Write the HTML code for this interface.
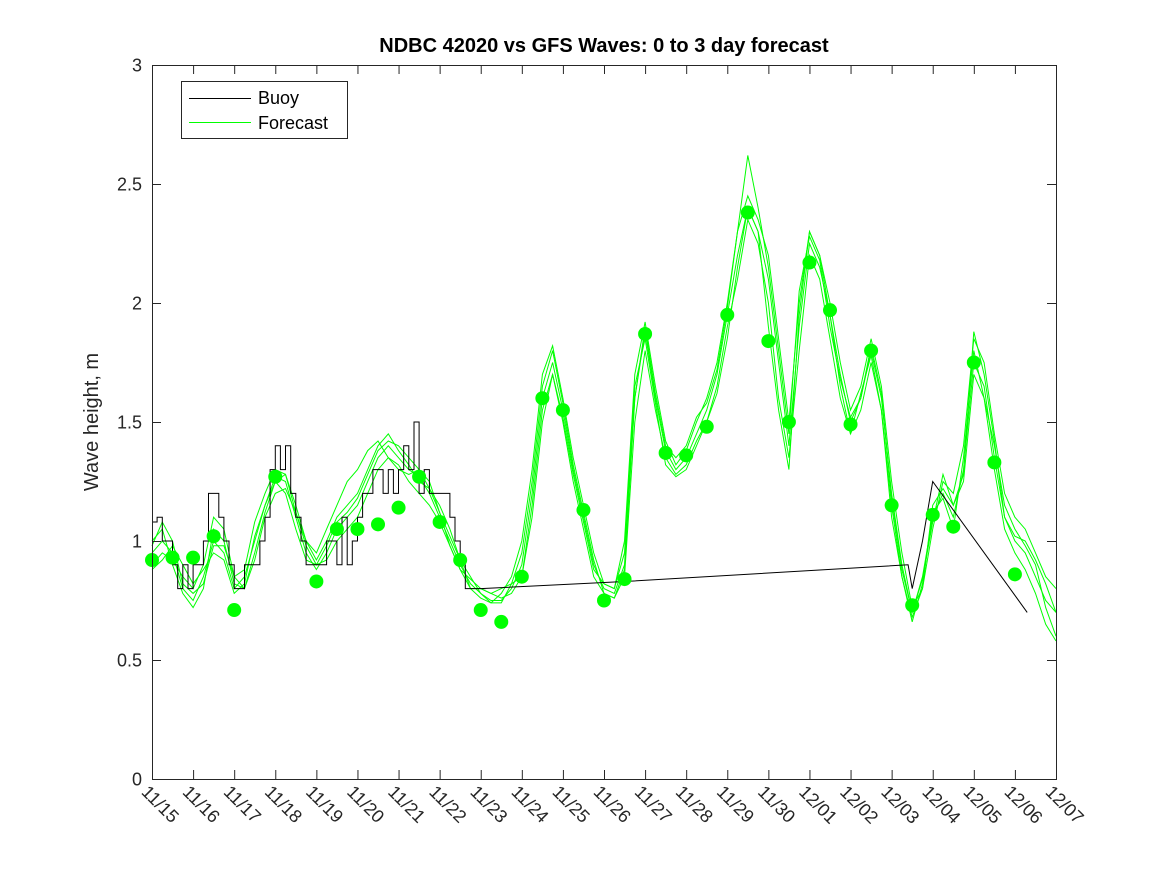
<!DOCTYPE html>
<html><head><meta charset="utf-8"><style>
body{margin:0;background:#fff;}
svg{display:block;font-family:"Liberation Sans",sans-serif;}
</style></head><body>
<svg id="chart" width="1167" height="875"></svg>
<script>
const xTickLabels=["11/15","11/16","11/17","11/18","11/19","11/20","11/21","11/22","11/23","11/24","11/25","11/26","11/27","11/28","11/29","11/30","12/01","12/02","12/03","12/04","12/05","12/06","12/07"];
const yTicks=[0,0.5,1,1.5,2,2.5,3];
const dotTimes=[0,0.5,1,1.5,2,3,4,4.5,5,5.5,6,6.5,7,7.5,8,8.5,9,9.5,10,10.5,11,11.5,12,12.5,13,13.5,14,14.5,15,15.5,16,16.5,17,17.5,18,18.5,19,19.5,20,20.5,21];
const dotValues=[0.92,0.93,0.93,1.02,0.71,1.27,0.83,1.05,1.05,1.07,1.14,1.27,1.08,0.92,0.71,0.66,0.85,1.60,1.55,1.13,0.75,0.84,1.87,1.37,1.36,1.48,1.95,2.38,1.84,1.50,2.17,1.97,1.49,1.80,1.15,0.73,1.11,1.06,1.75,1.33,0.86];
// forecast runs, 6-hourly from 11/15
const fc1=[0.95,1.0,0.95,0.8,0.75,0.85,1.0,0.95,0.8,0.85,1.0,1.15,1.27,1.25,1.1,0.95,0.88,0.95,1.05,1.1,1.15,1.25,1.35,1.4,1.35,1.3,1.27,1.2,1.1,1.0,0.9,0.82,0.78,0.75,0.75,0.8,0.9,1.2,1.6,1.75,1.55,1.3,1.1,0.9,0.8,0.78,0.9,1.6,1.88,1.6,1.38,1.3,1.35,1.45,1.55,1.7,1.95,2.2,2.4,2.3,2.1,1.75,1.4,1.9,2.25,2.15,1.95,1.7,1.5,1.6,1.8,1.6,1.2,0.9,0.7,0.85,1.1,1.2,1.1,1.3,1.75,1.65,1.35,1.1,1.0,0.95,0.85,0.75,0.7];
const fc2=[1.0,1.05,0.9,0.78,0.72,0.8,1.05,1.0,0.82,0.8,0.95,1.12,1.25,1.28,1.15,1.0,0.92,1.0,1.1,1.15,1.2,1.3,1.4,1.45,1.38,1.32,1.25,1.22,1.15,1.05,0.92,0.8,0.76,0.74,0.78,0.85,1.0,1.3,1.7,1.82,1.6,1.35,1.15,0.95,0.82,0.8,1.0,1.7,1.92,1.65,1.42,1.32,1.38,1.5,1.6,1.75,2.0,2.3,2.45,2.35,2.2,1.85,1.5,2.0,2.3,2.2,2.0,1.75,1.55,1.65,1.85,1.65,1.25,0.95,0.72,0.8,1.05,1.25,1.2,1.4,1.85,1.75,1.45,1.2,1.1,1.05,0.95,0.85,0.8];
const fc3=[0.9,0.95,0.92,0.85,0.8,0.9,1.1,1.05,0.85,0.8,0.92,1.1,1.2,1.22,1.12,1.0,0.95,1.05,1.15,1.25,1.3,1.38,1.42,1.35,1.3,1.28,1.3,1.22,1.12,0.98,0.88,0.8,0.8,0.78,0.8,0.82,0.85,1.1,1.5,1.7,1.5,1.25,1.05,0.85,0.78,0.76,0.85,1.5,1.8,1.55,1.35,1.28,1.32,1.42,1.5,1.65,1.9,2.1,2.35,2.25,2.0,1.6,1.35,1.8,2.2,2.1,1.85,1.6,1.45,1.55,1.75,1.55,1.15,0.85,0.68,0.8,1.15,1.22,1.15,1.25,1.7,1.6,1.3,1.05,0.95,0.88,0.78,0.65,0.58];
const fc4=[0.88,0.92,0.98,0.9,0.82,0.88,0.95,0.92,0.78,0.82,1.02,1.15,1.25,1.2,1.05,0.92,0.9,0.92,1.0,1.05,1.1,1.2,1.3,1.35,1.32,1.25,1.2,1.15,1.08,0.98,0.88,0.84,0.8,0.78,0.76,0.78,0.85,1.15,1.55,1.7,1.52,1.28,1.08,0.88,0.82,0.8,0.95,1.65,1.85,1.58,1.32,1.27,1.3,1.4,1.5,1.62,1.85,2.15,2.4,2.3,1.9,1.55,1.3,1.95,2.3,2.2,1.95,1.65,1.45,1.62,1.78,1.55,1.1,0.85,0.66,0.82,1.12,1.18,1.05,1.35,1.8,1.6,1.4,1.15,1.05,0.98,0.9,0.72,0.6];
const fc5=[0.98,1.08,1.0,0.82,0.78,0.82,0.98,0.98,0.85,0.88,1.08,1.2,1.3,1.28,1.12,0.98,0.9,0.98,1.08,1.12,1.18,1.28,1.38,1.42,1.4,1.35,1.3,1.25,1.12,1.02,0.92,0.85,0.78,0.74,0.74,0.82,0.95,1.25,1.65,1.8,1.58,1.32,1.12,0.92,0.78,0.76,0.88,1.6,1.9,1.62,1.4,1.35,1.4,1.52,1.58,1.72,1.98,2.3,2.62,2.4,2.15,1.8,1.45,2.05,2.28,2.18,1.9,1.68,1.52,1.6,1.82,1.62,1.18,0.88,0.7,0.84,1.08,1.28,1.15,1.28,1.88,1.7,1.42,1.1,1.02,1.0,0.92,0.82,0.7];
const buoyVals=[1.08,1.1,1.0,1.0,0.9,0.8,0.9,0.8,0.9,0.9,1.0,1.2,1.2,1.1,1.0,0.9,0.8,0.8,0.9,0.9,0.9,1.0,1.1,1.3,1.4,1.3,1.4,1.2,1.1,1.0,0.9,0.9,0.9,0.9,1.0,1.0,0.9,1.1,0.9,1.0,1.1,1.2,1.2,1.3,1.3,1.2,1.3,1.2,1.3,1.4,1.3,1.5,1.2,1.3,1.2,1.2,1.2,1.2,1.1,1.0,0.9,0.8,0.8,0.8,0.8];
const buoyTailT=[8,11.5,18.4,18.5,18.75,19,21.3];
const buoyTailV=[0.8,0.83,0.9,0.8,1.0,1.25,0.7];

const NS="http://www.w3.org/2000/svg";
const svg=document.getElementById('chart');
const L=152,R=1056,T=65,B=779;
const xs=t=>L+(R-L)*t/22;
const ys=v=>B-(B-T)*v/3;
function mk(tag,attrs,parent){const e=document.createElementNS(NS,tag);for(const k in attrs)e.setAttribute(k,attrs[k]);(parent||svg).appendChild(e);return e;}

const plot=mk('g',{});


mk('rect',{x:L,y:T,width:R-L,height:B-T,fill:'#fff',stroke:'none'},plot);

// forecasts
[fc1,fc2,fc3,fc4,fc5].forEach((arr,i)=>{
  const pts=arr.map((v,j)=>xs(j*0.25).toFixed(1)+','+ys(v).toFixed(1)).join(' ');
  const p=mk('polyline',{points:pts,fill:'none',stroke:'#00ff00','stroke-width':1},plot);
  
  
});
// buoy step line
let bp=[];
buoyVals.forEach((v,j)=>{const t=j*0.125;bp.push(xs(t).toFixed(1)+','+ys(v).toFixed(1));bp.push(xs(t+0.125).toFixed(1)+','+ys(v).toFixed(1));});
buoyTailT.forEach((t,j)=>bp.push(xs(t).toFixed(1)+','+ys(buoyTailV[j]).toFixed(1)));
const bl=mk('polyline',{points:bp.join(' '),fill:'none',stroke:'#000','stroke-width':1},plot);


// dots
dotTimes.forEach((t,j)=>{
  const c=mk('circle',{cx:xs(t),cy:ys(dotValues[j]),r:7,fill:'#00ff00'},plot);
  
  
});
// axes box
const box=mk('rect',{x:L+0.5,y:T+0.5,width:R-L,height:B-T,fill:'none',stroke:'#262626','stroke-width':1});


// y ticks
yTicks.forEach(v=>{
  const y=ys(v)+0.5;
  mk('line',{x1:L,x2:L+9,y1:y,y2:y,stroke:'#262626'});
  mk('line',{x1:R-9,x2:R,y1:y,y2:y,stroke:'#262626'});
  const tx=mk('text',{x:L-10,y:y+6,'text-anchor':'end','font-size':18,fill:'#262626'});
  tx.textContent=String(v);
  
  
});
// x ticks
xTickLabels.forEach((lab,i)=>{
  const x=xs(i)+0.5;
  mk('line',{x1:x,x2:x,y1:B,y2:B-9,stroke:'#262626'});
  mk('line',{x1:x,x2:x,y1:T,y2:T+9,stroke:'#262626'});
  const tx=mk('text',{x:x-12,y:B+14,'font-size':18,fill:'#262626',transform:`rotate(45 ${x-12} ${B+14})`});
  tx.textContent=lab;
  
  
});
const yt=mk('text',{x:98,y:422,'text-anchor':'middle','font-size':20,fill:'#262626',transform:'rotate(-90 98 422)'});
yt.textContent='Wave height, m';


const tt=mk('text',{x:604,y:52,'text-anchor':'middle','font-size':20,'font-weight':'bold',fill:'#000'});
tt.textContent='NDBC 42020 vs GFS Waves: 0 to 3 day forecast';


// legend
const lg=mk('g',{});


mk('rect',{x:181.5,y:81.5,width:166,height:57,fill:'#fff',stroke:'#262626'},lg);
mk('line',{x1:189,x2:251,y1:98.5,y2:98.5,stroke:'#000'},lg);
mk('line',{x1:189,x2:251,y1:122.5,y2:122.5,stroke:'#00ff00'},lg);
const l1=mk('text',{x:258,y:104,'font-size':18,fill:'#000'},lg);l1.textContent='Buoy';


const l2=mk('text',{x:258,y:129,'font-size':18,fill:'#000'},lg);l2.textContent='Forecast';


</script>
</body></html>
